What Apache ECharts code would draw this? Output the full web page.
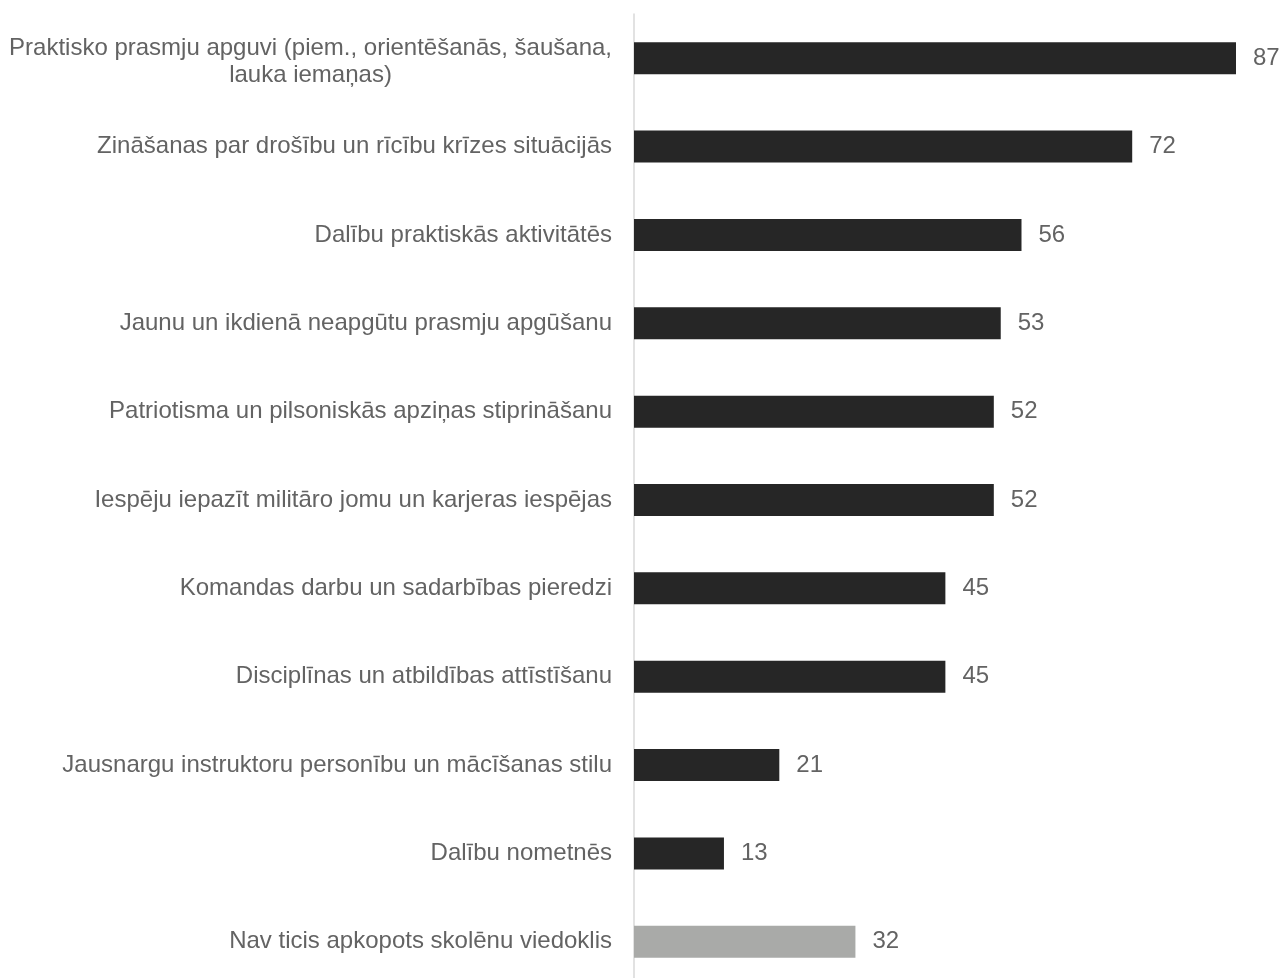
<!DOCTYPE html>
<html>
<head>
<meta charset="utf-8">
<script src="https://cdn.jsdelivr.net/npm/echarts@6/dist/echarts.min.js"></script>
<style>
html,body{margin:0;padding:0;background:#fff;}
#chart{width:1280px;height:978px;}
</style>
</head>
<body>
<div id="chart"></div>
<script>
const categories = [
  "Praktisko prasmju apguvi (piem., orientēšanās, šaušana,\nlauka iemaņas)",
  "Zināšanas par drošību un rīcību krīzes situācijās",
  "Dalību praktiskās aktivitātēs",
  "Jaunu un ikdienā neapgūtu prasmju apgūšanu",
  "Patriotisma un pilsoniskās apziņas stiprināšanu",
  "Iespēju iepazīt militāro jomu un karjeras iespējas",
  "Komandas darbu un sadarbības pieredzi",
  "Disciplīnas un atbildības attīstīšanu",
  "Jausnargu instruktoru personību un mācīšanas stilu",
  "Dalību nometnēs",
  "Nav ticis apkopots skolēnu viedoklis"
];
const values = [87, 72, 56, 53, 52, 52, 45, 45, 21, 13, 32];
const greyCategory = "Nav ticis apkopots skolēnu viedoklis";

const DARK = "#262626";
const GREY = "#a9aaa8";
const TEXT = "#636363";
const FONT = 'Liberation Sans, Arial, sans-serif';

const chart = echarts.init(document.getElementById('chart'), null, {renderer: 'canvas'});
chart.setOption({
  animation: false,
  backgroundColor: '#ffffff',
  grid: {left: 634, width: 602, top: 14, height: 972, containLabel: false, outerBoundsMode: 'none'},
  xAxis: {
    type: 'value', min: 0, max: 87, show: false
  },
  yAxis: {
    type: 'category',
    data: categories,
    inverse: true,
    axisLine: {show: true, lineStyle: {color: '#d9d9d9', width: 1.5}},
    axisTick: {show: false},
    splitLine: {show: false},
    axisLabel: {
      margin: 22,
      fontFamily: FONT,
      fontSize: 24,
      color: TEXT,
      formatter: function (v) {
        const lines = v.split('\n');
        if (lines.length === 1) return '{c|' + lines[0] + '}';
        return '{s| }\n' + lines.map(function (s) { return '{c|' + s + '}'; }).join('\n');
      },
      rich: {
        c: {fontFamily: FONT, fontSize: 24, color: TEXT, align: 'center', lineHeight: 27},
        s: {fontSize: 1, lineHeight: 7, color: 'rgba(0,0,0,0)'}
      }
    }
  },
  series: [{
    type: 'bar',
    barWidth: 32,
    data: values.map(function (v, i) {
      return {value: v, itemStyle: {color: categories[i] === greyCategory ? GREY : DARK}};
    }),
    label: {
      show: true,
      position: 'right',
      distance: 17,
      fontFamily: FONT,
      fontSize: 24,
      color: TEXT
    }
  }]
});
</script>
</body>
</html>
